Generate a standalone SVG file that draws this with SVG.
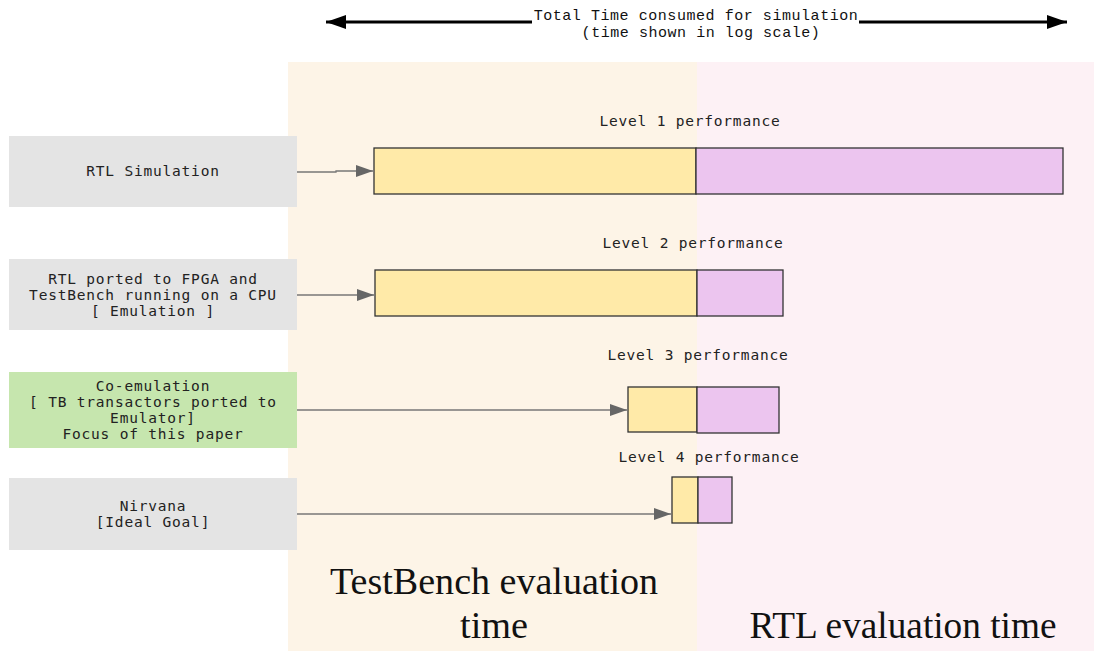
<svg xmlns="http://www.w3.org/2000/svg" width="1094" height="651" viewBox="0 0 1094 651">
<style>
.mono{font-family:"DejaVu Sans Mono","Liberation Mono",monospace;font-size:14.5px;letter-spacing:0.8px;fill:#222;text-anchor:middle}
.top{font-family:"Liberation Mono","DejaVu Sans Mono",monospace;font-size:15px;letter-spacing:0.55px;fill:#111;text-anchor:middle}
.big{font-family:"Liberation Serif","DejaVu Serif",serif;font-size:37px;fill:#111;text-anchor:middle}
.box{fill:#e4e4e4}
.tb{fill:#ffeaa8;stroke:#333;stroke-width:1.3}
.rtl{fill:#ecc5ef;stroke:#333;stroke-width:1.3}
.conn{stroke:#777;stroke-width:1.3;fill:none}
</style>
<defs>
<marker id="ah" markerWidth="17" markerHeight="12" refX="17" refY="6" orient="auto" markerUnits="userSpaceOnUse" viewBox="0 0 17 12">
<path d="M0,0 L17,6 L0,12 Z" fill="#666"/>
</marker>
<marker id="big" markerWidth="20" markerHeight="14" refX="20" refY="7" orient="auto" markerUnits="userSpaceOnUse" viewBox="0 0 20 14">
<path d="M0,0 L20,7 L0,14 Z" fill="#000"/>
</marker>
</defs>
<rect width="1094" height="651" fill="#fff"/>
<g id="bg">
<rect x="288" y="62" width="409" height="589" fill="#fdf4e7"/>
<rect x="697" y="62" width="397" height="589" fill="#fdf1f5"/>
</g>
<g id="axis">
<line x1="532" y1="22" x2="326" y2="22" stroke="#000" stroke-width="3" marker-end="url(#big)"/>
<line x1="859" y1="22" x2="1067" y2="22" stroke="#000" stroke-width="3" marker-end="url(#big)"/>
<text class="top" x="696" y="20">Total Time consumed for simulation</text>
<text class="top" x="701" y="37">(time shown in log scale)</text>
</g>
<g id="node-rtl-sim">
<rect class="box" x="9" y="136" width="288" height="71"/>
<text class="mono" x="153" y="176">RTL Simulation</text>
</g>
<g id="node-emulation">
<rect class="box" x="9" y="259" width="288" height="71"/>
<text class="mono" x="153" y="284">RTL ported to FPGA and</text>
<text class="mono" x="153" y="300">TestBench running on a CPU</text>
<text class="mono" x="153" y="316">[ Emulation ]</text>
</g>
<g id="node-coemulation">
<rect x="9" y="372" width="288" height="76" fill="#c6e6ae"/>
<text class="mono" x="153" y="391">Co-emulation</text>
<text class="mono" x="153" y="407">[ TB transactors ported to</text>
<text class="mono" x="153" y="423">Emulator]</text>
<text class="mono" x="153" y="439">Focus of this paper</text>
</g>
<g id="node-nirvana">
<rect class="box" x="9" y="478" width="288" height="72"/>
<text class="mono" x="153" y="511">Nirvana</text>
<text class="mono" x="153" y="527">[Ideal Goal]</text>
</g>
<g id="level1">
<text class="mono" x="690" y="126">Level 1 performance</text>
<rect class="tb" x="374" y="148" width="322" height="46"/>
<rect class="rtl" x="696" y="148" width="367" height="46"/>
</g>
<g id="level2">
<text class="mono" x="693" y="248">Level 2 performance</text>
<rect class="tb" x="375" y="270" width="322" height="46"/>
<rect class="rtl" x="697" y="270" width="86" height="46"/>
</g>
<g id="level3">
<text class="mono" x="698" y="360">Level 3 performance</text>
<rect class="tb" x="628" y="387" width="69" height="45"/>
<rect class="rtl" x="697" y="387" width="82" height="46"/>
</g>
<g id="level4">
<text class="mono" x="709" y="462">Level 4 performance</text>
<rect class="tb" x="672" y="477" width="26" height="46"/>
<rect class="rtl" x="698" y="477" width="34" height="46"/>
</g>
<g id="connectors">
<path class="conn" d="M297,172 L336,172 L336,171 L373,171" marker-end="url(#ah)"/>
<path class="conn" d="M297,295 L374,295" marker-end="url(#ah)"/>
<path class="conn" d="M297,410 L627,410" marker-end="url(#ah)"/>
<path class="conn" d="M297,514 L671,514" marker-end="url(#ah)"/>
</g>
<g id="labels">
<text class="big" x="494" y="594" textLength="328" lengthAdjust="spacingAndGlyphs">TestBench evaluation</text>
<text class="big" x="494" y="638" textLength="68" lengthAdjust="spacingAndGlyphs">time</text>
<text class="big" x="903" y="638" textLength="307" lengthAdjust="spacingAndGlyphs">RTL evaluation time</text>
</g>
</svg>
